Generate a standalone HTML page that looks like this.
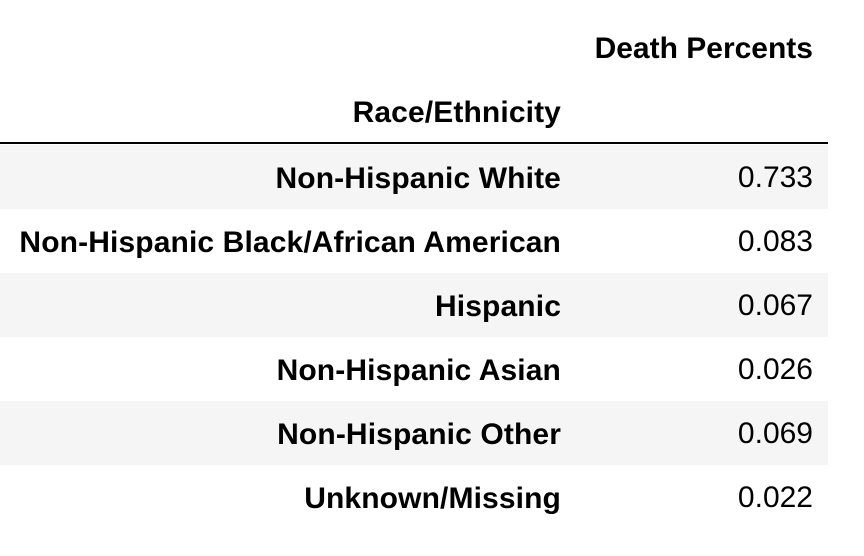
<!DOCTYPE html>
<html>
<head>
<meta charset="utf-8">
<style>
  html, body { margin:0; padding:0; background:#fff; }
  body { width:864px; height:556px; position:relative; overflow:hidden;
         font-family:"Liberation Sans", Arial, sans-serif; color:#000; }
  .cell { position:absolute; font-size:30px; line-height:34px; white-space:nowrap; }
  .idx { right:303px; font-weight:bold; text-align:right; letter-spacing:0.12px; }
  .val { right:51px; text-align:right; }
  .row { position:absolute; left:0; width:828px; height:64px; }
  .gray { background:#f5f5f5; }
  .rule { position:absolute; left:0; top:142px; width:828px; height:2px; background:#000; }
</style>
</head>
<body>
  <div class="cell val" style="top:32px;font-weight:bold;">Death Percents</div>
  <div class="cell idx" style="top:96px;">Race/Ethnicity</div>
  <div class="rule"></div>
  <div id="rows"></div>
<script>
const categories = ["Non-Hispanic White","Non-Hispanic Black/African American","Hispanic","Non-Hispanic Asian","Non-Hispanic Other","Unknown/Missing"];
const values = ["0.733","0.083","0.067","0.026","0.069","0.022"];
const container = document.getElementById('rows');
categories.forEach((c, i) => {
  const top = 145 + i * 64;
  const row = document.createElement('div');
  row.className = 'row' + (i % 2 === 0 ? ' gray' : '');
  row.style.top = top + 'px';
  
  
  container.appendChild(row);
  const lab = document.createElement('div');
  lab.className = 'cell idx';
  lab.style.top = (top + 17) + 'px';
  lab.textContent = c;
  
  
  container.appendChild(lab);
  const v = document.createElement('div');
  v.className = 'cell val';
  v.style.top = (top + 16) + 'px';
  v.textContent = values[i];
  
  
  container.appendChild(v);
});
</script>
</body>
</html>
